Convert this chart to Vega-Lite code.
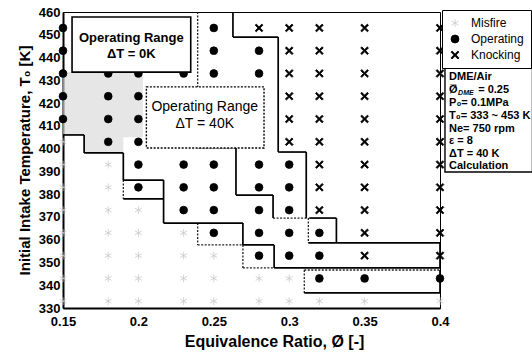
{
"$schema":"https://vega.github.io/schema/vega-lite/v6.json",
"width":377,"height":296,
"autosize":{"type":"none"},
"padding":{"left":63,"top":12,"right":92,"bottom":52},
"background":"white",
"config":{
 "view":{"stroke":"black","strokeWidth":1},
 "font":"Liberation Sans",
 "axis":{"grid":false,"domainColor":"black","domainWidth":2,"ticks":false,"labelColor":"black","labelFontWeight":"bold","labelFontSize":13,"titleFontWeight":"bold","titleColor":"black","labelFont":"Liberation Sans","titleFont":"Liberation Sans"},
 "legend":{"orient":"none","legendX":379,"legendY":-2,"padding":7,"rowPadding":4,"labelFontSize":12,"labelColor":"black","labelFont":"Liberation Sans","symbolSize":64,"symbolStrokeWidth":0.8,"strokeColor":"black","fillColor":"white","labelOffset":10}
},
"datasets":{
 "stip":[{"phi":0.15,"T":433.6,"T2":406},{"phi":0.164,"T":433.6,"T2":398.1},{"phi":0.19,"T":433.6,"T2":405},{"phi":0.203,"T":433.6,"T2":405}],
 "segS":[
  {"phi":0.2627,"T":460,"phi2":0.2627,"T2":449},
  {"phi":0.2627,"T":449,"phi2":0.2927,"T2":449},
  {"phi":0.2927,"T":449,"phi2":0.2927,"T2":398.5},
  {"phi":0.2927,"T":398.5,"phi2":0.3113,"T2":398.5},
  {"phi":0.3113,"T":398.5,"phi2":0.3113,"T2":369.5},
  {"phi":0.3133,"T":369.5,"phi2":0.3313,"T2":369.5},
  {"phi":0.3313,"T":369.5,"phi2":0.3313,"T2":358.6},
  {"phi":0.3127,"T":358.6,"phi2":0.4,"T2":358.6},
  {"phi":0.4,"T":358.6,"phi2":0.4,"T2":347.6},
  {"phi":0.29,"T":347.6,"phi2":0.4,"T2":347.6},
  {"phi":0.29,"T":357.7,"phi2":0.29,"T2":347.6},
  {"phi":0.2693,"T":357.7,"phi2":0.29,"T2":357.7},
  {"phi":0.2693,"T":367.3,"phi2":0.2693,"T2":357.7},
  {"phi":0.2167,"T":367.3,"phi2":0.2693,"T2":367.3},
  {"phi":0.2167,"T":386.2,"phi2":0.2167,"T2":367.3},
  {"phi":0.19,"T":386.2,"phi2":0.2167,"T2":386.2},
  {"phi":0.19,"T":398.1,"phi2":0.19,"T2":386.2},
  {"phi":0.164,"T":398.1,"phi2":0.19,"T2":398.1},
  {"phi":0.164,"T":406,"phi2":0.164,"T2":398.1},
  {"phi":0.15,"T":406,"phi2":0.164,"T2":406},
  {"phi":0.31,"T":336.6,"phi2":0.4,"T2":336.6},
  {"phi":0.4,"T":346.7,"phi2":0.4,"T2":336.6},
  {"phi":0.19,"T":377.9,"phi2":0.2167,"T2":377.9},
  {"phi":0.2647,"T":379.6,"phi2":0.2893,"T2":379.6},
  {"phi":0.2893,"T":379.6,"phi2":0.2893,"T2":369.5},
  {"phi":0.2647,"T":400.3,"phi2":0.2647,"T2":379.6}
 ],
 "segD":[
  {"phi":0.2393,"T":460,"phi2":0.2393,"T2":400.3},
  {"phi":0.2393,"T":400.3,"phi2":0.2647,"T2":400.3},
  {"phi":0.2893,"T":369.5,"phi2":0.3127,"T2":369.5},
  {"phi":0.3127,"T":369.5,"phi2":0.3127,"T2":358.6},
  {"phi":0.19,"T":386.2,"phi2":0.19,"T2":377.9},
  {"phi":0.2393,"T":367.3,"phi2":0.2393,"T2":357.7},
  {"phi":0.2393,"T":357.7,"phi2":0.2693,"T2":357.7},
  {"phi":0.2693,"T":357.7,"phi2":0.2693,"T2":347.6},
  {"phi":0.2693,"T":347.6,"phi2":0.29,"T2":347.6},
  {"phi":0.31,"T":346.7,"phi2":0.4,"T2":346.7},
  {"phi":0.31,"T":346.7,"phi2":0.31,"T2":336.6}
 ],
 "pts":[
  {"phi":0.15,"T":453,"state":"Operating"},{"phi":0.15,"T":443,"state":"Operating"},{"phi":0.15,"T":433,"state":"Operating"},{"phi":0.15,"T":423,"state":"Operating"},{"phi":0.15,"T":413,"state":"Operating"},
  {"phi":0.15,"T":403,"state":"Misfire"},{"phi":0.15,"T":393,"state":"Misfire"},{"phi":0.15,"T":383,"state":"Misfire"},{"phi":0.15,"T":373,"state":"Misfire"},{"phi":0.15,"T":363,"state":"Misfire"},{"phi":0.15,"T":353,"state":"Misfire"},{"phi":0.15,"T":343,"state":"Misfire"},{"phi":0.15,"T":333,"state":"Misfire"},
  {"phi":0.18,"T":453,"state":"Operating"},{"phi":0.18,"T":443,"state":"Operating"},{"phi":0.18,"T":433,"state":"Operating"},{"phi":0.18,"T":423,"state":"Operating"},{"phi":0.18,"T":413,"state":"Operating"},{"phi":0.18,"T":403,"state":"Operating"},
  {"phi":0.18,"T":393,"state":"Misfire"},{"phi":0.18,"T":383,"state":"Misfire"},{"phi":0.18,"T":373,"state":"Misfire"},{"phi":0.18,"T":363,"state":"Misfire"},{"phi":0.18,"T":353,"state":"Misfire"},{"phi":0.18,"T":343,"state":"Misfire"},{"phi":0.18,"T":333,"state":"Misfire"},
  {"phi":0.2,"T":453,"state":"Operating"},{"phi":0.2,"T":443,"state":"Operating"},{"phi":0.2,"T":433,"state":"Operating"},{"phi":0.2,"T":423,"state":"Operating"},{"phi":0.2,"T":413,"state":"Operating"},{"phi":0.2,"T":403,"state":"Operating"},{"phi":0.2,"T":393,"state":"Operating"},{"phi":0.2,"T":383,"state":"Operating"},
  {"phi":0.2,"T":373,"state":"Misfire"},{"phi":0.2,"T":363,"state":"Misfire"},{"phi":0.2,"T":353,"state":"Misfire"},{"phi":0.2,"T":343,"state":"Misfire"},{"phi":0.2,"T":333,"state":"Misfire"},
  {"phi":0.23,"T":453,"state":"Operating"},{"phi":0.23,"T":443,"state":"Operating"},{"phi":0.23,"T":433,"state":"Operating"},{"phi":0.23,"T":423,"state":"Operating"},{"phi":0.23,"T":413,"state":"Operating"},{"phi":0.23,"T":403,"state":"Operating"},{"phi":0.23,"T":393,"state":"Operating"},{"phi":0.23,"T":383,"state":"Operating"},{"phi":0.23,"T":373,"state":"Operating"},
  {"phi":0.23,"T":363,"state":"Misfire"},{"phi":0.23,"T":353,"state":"Misfire"},{"phi":0.23,"T":343,"state":"Misfire"},{"phi":0.23,"T":333,"state":"Misfire"},
  {"phi":0.25,"T":453,"state":"Operating"},{"phi":0.25,"T":443,"state":"Operating"},{"phi":0.25,"T":433,"state":"Operating"},{"phi":0.25,"T":423,"state":"Operating"},{"phi":0.25,"T":413,"state":"Operating"},{"phi":0.25,"T":403,"state":"Operating"},{"phi":0.25,"T":393,"state":"Operating"},{"phi":0.25,"T":383,"state":"Operating"},{"phi":0.25,"T":373,"state":"Operating"},{"phi":0.25,"T":363,"state":"Operating"},
  {"phi":0.25,"T":353,"state":"Misfire"},{"phi":0.25,"T":343,"state":"Misfire"},{"phi":0.25,"T":333,"state":"Misfire"},
  {"phi":0.28,"T":453,"state":"Knocking"},
  {"phi":0.28,"T":443,"state":"Operating"},{"phi":0.28,"T":433,"state":"Operating"},{"phi":0.28,"T":423,"state":"Operating"},{"phi":0.28,"T":413,"state":"Operating"},{"phi":0.28,"T":403,"state":"Operating"},{"phi":0.28,"T":393,"state":"Operating"},{"phi":0.28,"T":383,"state":"Operating"},{"phi":0.28,"T":373,"state":"Operating"},{"phi":0.28,"T":363,"state":"Operating"},{"phi":0.28,"T":353,"state":"Operating"},
  {"phi":0.28,"T":343,"state":"Misfire"},{"phi":0.28,"T":333,"state":"Misfire"},
  {"phi":0.3,"T":453,"state":"Knocking"},{"phi":0.3,"T":443,"state":"Knocking"},{"phi":0.3,"T":433,"state":"Knocking"},{"phi":0.3,"T":423,"state":"Knocking"},{"phi":0.3,"T":413,"state":"Knocking"},{"phi":0.3,"T":403,"state":"Knocking"},
  {"phi":0.3,"T":393,"state":"Operating"},{"phi":0.3,"T":383,"state":"Operating"},{"phi":0.3,"T":373,"state":"Operating"},{"phi":0.3,"T":363,"state":"Operating"},{"phi":0.3,"T":353,"state":"Operating"},
  {"phi":0.3,"T":343,"state":"Misfire"},{"phi":0.3,"T":333,"state":"Misfire"},
  {"phi":0.32,"T":453,"state":"Knocking"},{"phi":0.32,"T":443,"state":"Knocking"},{"phi":0.32,"T":433,"state":"Knocking"},{"phi":0.32,"T":423,"state":"Knocking"},{"phi":0.32,"T":413,"state":"Knocking"},{"phi":0.32,"T":403,"state":"Knocking"},{"phi":0.32,"T":393,"state":"Knocking"},{"phi":0.32,"T":383,"state":"Knocking"},{"phi":0.32,"T":373,"state":"Knocking"},
  {"phi":0.32,"T":363,"state":"Operating"},{"phi":0.32,"T":353,"state":"Operating"},{"phi":0.32,"T":343,"state":"Operating"},
  {"phi":0.32,"T":333,"state":"Misfire"},
  {"phi":0.35,"T":453,"state":"Knocking"},{"phi":0.35,"T":443,"state":"Knocking"},{"phi":0.35,"T":433,"state":"Knocking"},{"phi":0.35,"T":423,"state":"Knocking"},{"phi":0.35,"T":413,"state":"Knocking"},{"phi":0.35,"T":403,"state":"Knocking"},{"phi":0.35,"T":393,"state":"Knocking"},{"phi":0.35,"T":383,"state":"Knocking"},{"phi":0.35,"T":373,"state":"Knocking"},{"phi":0.35,"T":363,"state":"Knocking"},{"phi":0.35,"T":353,"state":"Knocking"},
  {"phi":0.35,"T":343,"state":"Operating"},{"phi":0.35,"T":333,"state":"Misfire"},
  {"phi":0.4,"T":453,"state":"Knocking"},{"phi":0.4,"T":443,"state":"Knocking"},{"phi":0.4,"T":433,"state":"Knocking"},{"phi":0.4,"T":423,"state":"Knocking"},{"phi":0.4,"T":413,"state":"Knocking"},{"phi":0.4,"T":403,"state":"Knocking"},{"phi":0.4,"T":393,"state":"Knocking"},{"phi":0.4,"T":383,"state":"Knocking"},{"phi":0.4,"T":373,"state":"Knocking"},{"phi":0.4,"T":363,"state":"Knocking"},{"phi":0.4,"T":353,"state":"Knocking"},
  {"phi":0.4,"T":343,"state":"Operating"},{"phi":0.4,"T":333,"state":"Misfire"}
 ],
 "box0K":[{"phi":0.156,"T":457.8,"phi2":0.2347,"T2":433.6}],
 "box40K":[{"phi":0.2053,"T":427.1,"phi2":0.2833,"T2":400.3}],
 "infobox":[{"phi":0.4033,"T":435.4,"phi2":0.4613,"T2":389.7}],
 "lab0K":[{"phi":0.1953,"T":448.6,"txt":"Operating Range"},{"phi":0.1953,"T":441.6,"txt":"ΔT = 0K"}],
 "lab40K":[{"phi":0.244,"T":418.3,"txt":"Operating Range"},{"phi":0.244,"T":410.8,"txt":"ΔT = 40K"}],
 "info":[
  {"phi":0.406,"T":431.45,"txt":"DME/Air"},
  {"phi":0.406,"T":425.74,"txt":"Ø̅"},
  {"phi":0.4253,"T":425.74,"txt":"= 0.25"},
  {"phi":0.406,"T":420.04,"txt":"P₀= 0.1MPa"},
  {"phi":0.406,"T":414.33,"txt":"T₀= 333 ~ 453 K"},
  {"phi":0.406,"T":408.62,"txt":"Ne= 750 rpm"},
  {"phi":0.406,"T":403.35,"txt":"ε = 8"},
  {"phi":0.406,"T":397.64,"txt":"ΔT = 40 K"},
  {"phi":0.406,"T":392.37,"txt":"Calculation"}
 ],
 "infoSub":[{"phi":0.412,"T":424.4,"txt":"DME"}]
},
"encoding":{
 "x":{"field":"phi","type":"quantitative","scale":{"domain":[0.15,0.4],"nice":false,"zero":false},
  "axis":{"values":[0.15,0.2,0.25,0.3,0.35,0.4],"format":"~g","title":"Equivalence Ratio, Ø [-]","titleFontSize":16,"labelPadding":7,"titlePadding":5,"titleX":211,"labelFlush":false}},
 "y":{"field":"T","type":"quantitative","scale":{"domain":[330,460],"nice":false,"zero":false},
  "axis":{"values":[330,340,350,360,370,380,390,400,410,420,430,440,450,460],"title":"Initial Intake Temperature, T₀ [K]","titleFontSize":15,"labelPadding":3,"titlePadding":6,"labelFlush":false}}
},
"layer":[
 {"data":{"name":"stip"},"mark":{"type":"area","interpolate":"step-after","fill":"#d8d8d8","opacity":0.65},"encoding":{"y2":{"field":"T2"}}},
 {"data":{"name":"segD"},"mark":{"type":"rule","stroke":"#222222","strokeWidth":1.3,"strokeDash":[2,1.5]},"encoding":{"x2":{"field":"phi2"},"y2":{"field":"T2"}}},
 {"data":{"name":"segS"},"mark":{"type":"rule","stroke":"black","strokeWidth":1.7},"encoding":{"x2":{"field":"phi2"},"y2":{"field":"T2"}}},
 {"data":{"name":"pts"},"mark":{"type":"point","size":60,"opacity":1,"strokeWidth":0.8},
  "encoding":{
   "shape":{"field":"state","type":"nominal","scale":{"domain":["Misfire","Operating","Knocking"],"range":["M0,-1L0,1M-0.87,-0.5L0.87,0.5M-0.87,0.5L0.87,-0.5","circle","M-1,-0.72L-0.72,-1L0,-0.28L0.72,-1L1,-0.72L0.28,0L1,0.72L0.72,1L0,0.28L-0.72,1L-1,0.72L-0.28,0Z"]},"legend":{"title":null}},
   "fill":{"field":"state","type":"nominal","scale":{"domain":["Misfire","Operating","Knocking"],"range":["transparent","black","black"]},"legend":{"title":null}},
   "stroke":{"field":"state","type":"nominal","scale":{"domain":["Misfire","Operating","Knocking"],"range":["#c8c8c8","black","black"]},"legend":{"title":null}}
  }},
 {"data":{"name":"box0K"},"mark":{"type":"rect","fill":"white","stroke":"black","strokeWidth":1.6},"encoding":{"x2":{"field":"phi2"},"y2":{"field":"T2"}}},
 {"data":{"name":"box40K"},"mark":{"type":"rect","fill":"white","stroke":"black","strokeWidth":1.4,"strokeDash":[2,1.5]},"encoding":{"x2":{"field":"phi2"},"y2":{"field":"T2"}}},
 {"data":{"name":"infobox"},"mark":{"type":"rect","fill":"white","stroke":"black","strokeWidth":1.4},"encoding":{"x2":{"field":"phi2"},"y2":{"field":"T2"}}},
 {"data":{"name":"lab0K"},"mark":{"type":"text","font":"Liberation Sans","fontSize":13,"fontWeight":"bold","align":"center","baseline":"middle","color":"black"},"encoding":{"text":{"field":"txt"}}},
 {"data":{"name":"lab40K"},"mark":{"type":"text","font":"Liberation Sans","fontSize":14,"align":"center","baseline":"middle","color":"black"},"encoding":{"text":{"field":"txt"}}},
 {"data":{"name":"info"},"mark":{"type":"text","font":"Liberation Sans","fontSize":11,"fontWeight":"bold","align":"left","baseline":"middle","color":"black"},"encoding":{"text":{"field":"txt"}}},
 {"data":{"name":"infoSub"},"mark":{"type":"text","font":"Liberation Sans","fontSize":7,"fontStyle":"italic","fontWeight":"bold","align":"left","baseline":"middle","color":"black"},"encoding":{"text":{"field":"txt"}}}
]
}
